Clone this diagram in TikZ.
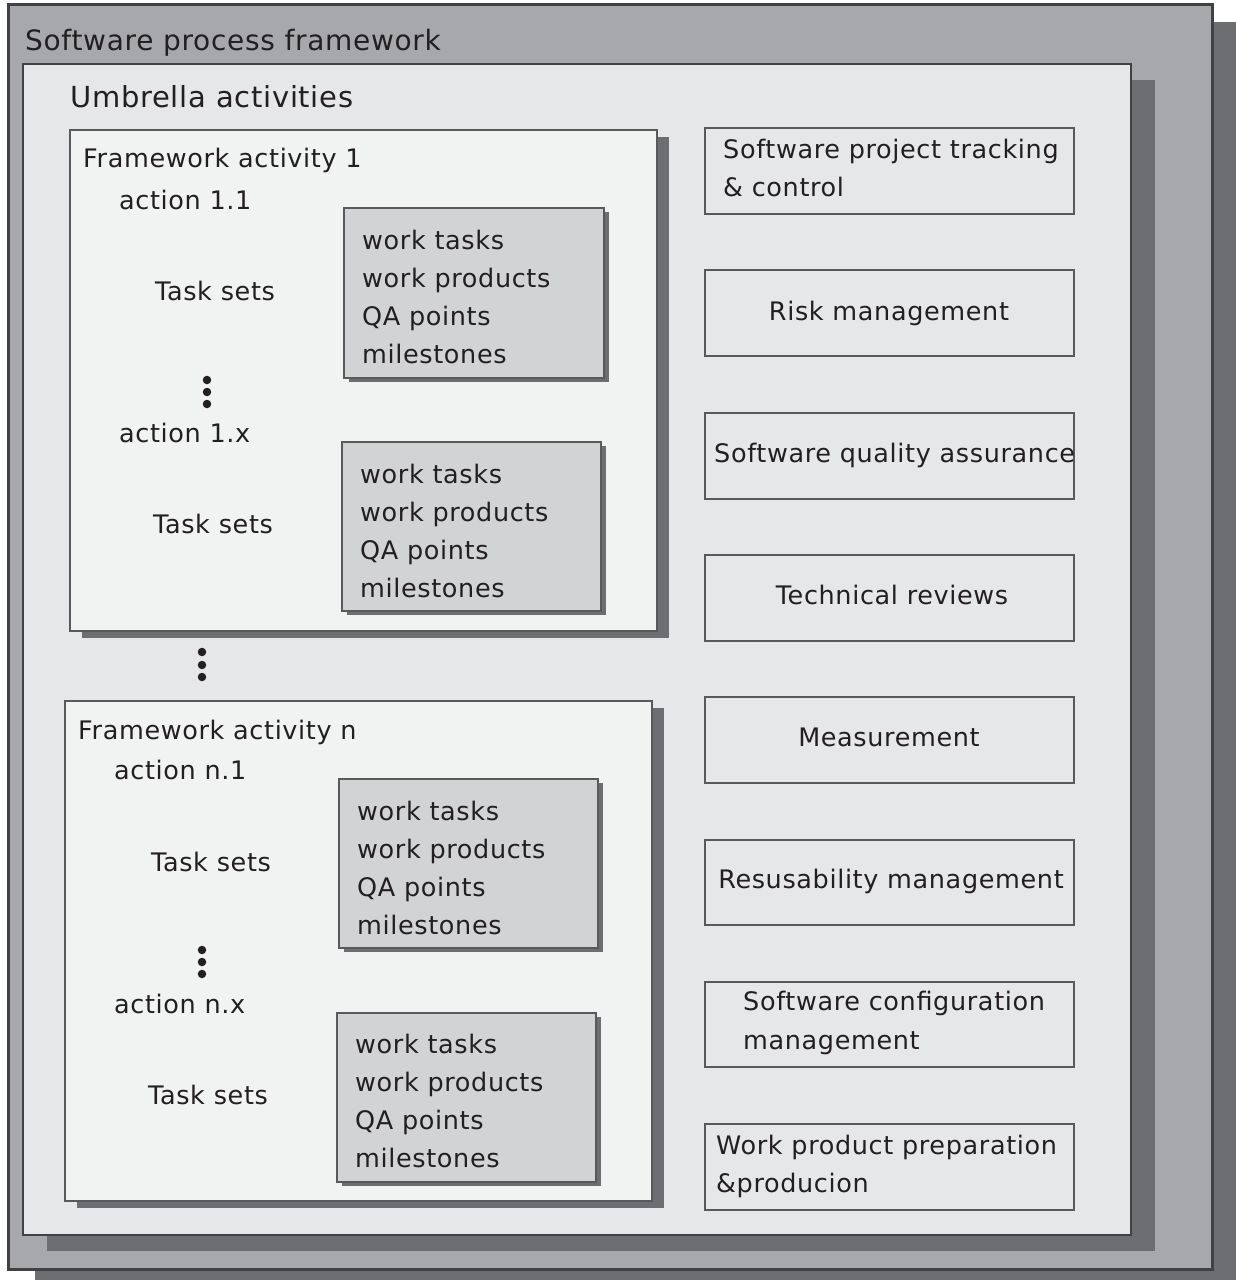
\documentclass[tikz,border=0pt]{standalone}
\usepackage{fontspec}
\setmainfont[LetterSpace=2.5]{DejaVu Sans}
\usetikzlibrary{shadows}
\definecolor{outerfill}{HTML}{A7A8AB}
\definecolor{umbfill}{HTML}{E6E7E8}
\definecolor{actfill}{HTML}{F1F2F2}
\definecolor{taskfill}{HTML}{D1D3D4}
\definecolor{shadowgray}{HTML}{6D6E71}
\definecolor{darkline}{HTML}{414042}
\definecolor{midline}{HTML}{58595B}
\definecolor{txt}{HTML}{231F20}
\tikzset{
  panel/.style={anchor=north west, inner sep=0pt, outer sep=0pt},
  outerbox/.style={panel, fill=outerfill, draw=darkline, line width=3pt,
    general shadow={fill=shadowgray, shadow xshift=27pt, shadow yshift=-18pt}},
  umbbox/.style={panel, fill=umbfill, draw=darkline, line width=2.5pt,
    general shadow={fill=shadowgray, shadow xshift=24pt, shadow yshift=-16pt}},
  actbox/.style={panel, fill=actfill, draw=midline, line width=1.8pt,
    general shadow={fill=shadowgray, shadow xshift=12pt, shadow yshift=-7pt}},
  taskbox/.style={panel, fill=taskfill, draw=midline, line width=1.5pt,
    general shadow={fill=shadowgray, shadow xshift=5pt, shadow yshift=-4pt}},
  umbitem/.style={panel, fill=umbfill, draw=midline, line width=1.5pt},
  lbl/.style={anchor=west, inner sep=0pt, text=txt, text height=18pt, text depth=0pt,
    font=\fontsize{25.5}{38}\selectfont},
  clbl/.style={lbl, anchor=center},
  bigtitle/.style={anchor=west, inner sep=0pt, text=txt, text height=21pt, text depth=0pt,
    font=\fontsize{28}{36}\selectfont},
  umbtitle/.style={bigtitle, font=\fontsize{29}{36}\selectfont},
  dot/.style={circle, fill=txt, inner sep=0pt, minimum size=8.5pt}
}
\begin{document}
\begin{tikzpicture}[x=1pt, y=-1pt]
\useasboundingbox (0,0) rectangle (1235,1280);
\fill[white] (0,0) rectangle (1235,1280);

% nested frames
\node[outerbox, minimum width=1204pt, minimum height=1265pt] (outer) at (8,4) {};
\node[umbbox, minimum width=1108pt, minimum height=1171pt] (umb) at (23,64) {};
\node[bigtitle] (outertitle) at (25,40) {Software process framework};
\node[umbtitle] (umbtitle) at (70,97) {Umbrella activities};

% framework activity boxes
\node[actbox, minimum width=587pt, minimum height=501pt] (act1) at (70,130) {};
\node[actbox, minimum width=587pt, minimum height=500pt] (actn) at (65,701) {};

% task set boxes
\node[taskbox, minimum width=260pt, minimum height=170pt] (ts11) at (344,208) {};
\node[taskbox, minimum width=259pt, minimum height=169pt] (ts1x) at (342,442) {};
\node[taskbox, minimum width=259pt, minimum height=169pt] (tsn1) at (339,779) {};
\node[taskbox, minimum width=259pt, minimum height=169pt] (tsnx) at (337,1013) {};

% activity 1
\node[lbl] (a1title) at (83,158) {Framework activity 1};
\node[lbl] (a11) at (119,200) {action 1.1};
\node[clbl] (tsl11) at (215,291) {Task sets};
\node[lbl] (a1x) at (119,433) {action 1.x};
\node[clbl] (tsl1x) at (213,524) {Task sets};
\node[dot] (d1a) at (207,380) {};
\node[dot] (d1b) at (207,392) {};
\node[dot] (d1c) at (207,404) {};

% between activities
\node[dot] (dma) at (202,652) {};
\node[dot] (dmb) at (202,665) {};
\node[dot] (dmc) at (202,677) {};

% activity n
\node[lbl] (antitle) at (78,730) {Framework activity n};
\node[lbl] (an1) at (114,770) {action n.1};
\node[clbl] (tsln1) at (211,862) {Task sets};
\node[lbl] (anx) at (114,1004) {action n.x};
\node[clbl] (tslnx) at (208,1095) {Task sets};
\node[dot] (dna) at (202,950) {};
\node[dot] (dnb) at (202,962) {};
\node[dot] (dnc) at (202,974) {};

% task set contents
\foreach \nm/\x/\y in {t11/362/240, t1x/360/474, tn1/357/811, tnx/355/1044}{
  \node[lbl] (\nm a) at (\x,\y) {work tasks};
  \node[lbl] (\nm b) at (\x,\y+38) {work products};
  \node[lbl] (\nm c) at (\x,\y+76) {QA points};
  \node[lbl] (\nm d) at (\x,\y+114) {milestones};
}

% umbrella activity list
\node[umbitem, minimum width=369pt, minimum height=86pt] (u1) at (705,128) {};
\node[umbitem, minimum width=369pt, minimum height=86pt] (u2) at (705,270) {};
\node[umbitem, minimum width=369pt, minimum height=86pt] (u3) at (705,413) {};
\node[umbitem, minimum width=369pt, minimum height=86pt] (u4) at (705,555) {};
\node[umbitem, minimum width=369pt, minimum height=86pt] (u5) at (705,697) {};
\node[umbitem, minimum width=369pt, minimum height=85pt] (u6) at (705,840) {};
\node[umbitem, minimum width=369pt, minimum height=85pt] (u7) at (705,982) {};
\node[umbitem, minimum width=369pt, minimum height=86pt] (u8) at (705,1124) {};

\node[lbl] (u1a) at (723,149) {Software project tracking};
\node[lbl] (u1b) at (723,187) {\& control};
\node[clbl] (u2t) at (889,311) {Risk management};
\node[lbl] (u3t) at (714,453) {Software quality assurance};
\node[clbl] (u4t) at (892,595) {Technical reviews};
\node[clbl] (u5t) at (889,737) {Measurement};
\node[clbl] (u6t) at (891,879) {Resusability management};
\node[lbl] (u7a) at (743,1001) {Software configuration};
\node[lbl] (u7b) at (743,1040) {management};
\node[lbl] (u8a) at (716,1145) {Work product preparation};
\node[lbl] (u8b) at (716,1183) {\&producion};
\end{tikzpicture}
\end{document}
